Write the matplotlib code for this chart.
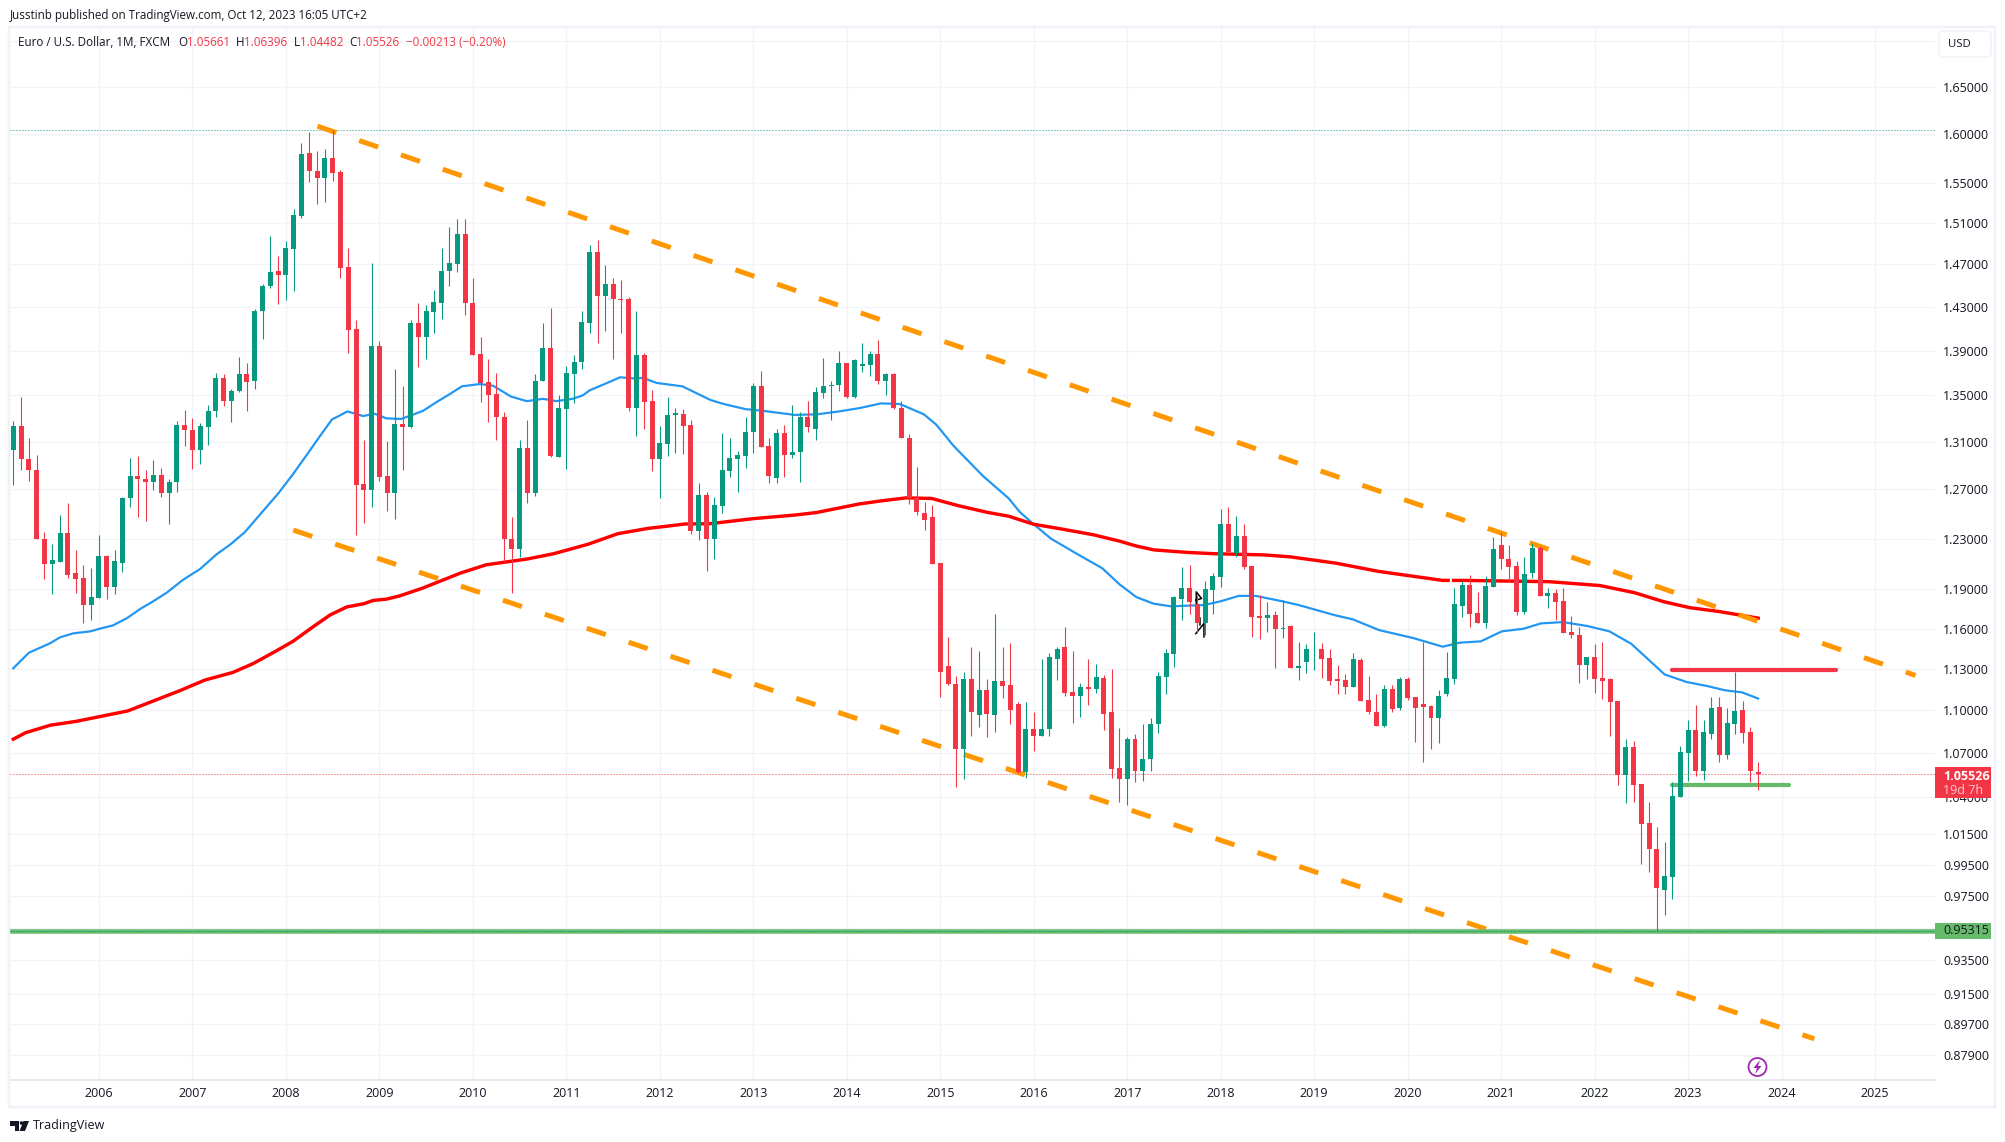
import numpy as np
import matplotlib
matplotlib.use("Agg")
import matplotlib.pyplot as plt
from matplotlib.patches import Rectangle, FancyBboxPatch, Circle, Polygon

W, H = 2005, 1142
UP = "#089981"
DOWN = "#f23645"
GRID = "#f0f3fa"
INK = "#131722"
ORANGE = "#ff9800"
SOFTGREEN = "#66bb6a"

plt.rcParams["font.family"] = ["Open Sans", "DejaVu Sans"]

# monthly candles, Feb 2005 to Oct 2023
opens = [
    1.3028, 1.3232, 1.2956, 1.2864, 1.2295, 1.2098, 1.2115, 1.2343, 1.2025, 1.1990, 1.1780,
    1.1835, 1.2160, 1.1920, 1.2105, 1.2625, 1.2811, 1.2787, 1.2765, 1.2820, 1.2670, 1.2765, 1.3240,
    1.3200, 1.3030, 1.3225, 1.3360, 1.3657, 1.3450, 1.3535, 1.3685, 1.3625, 1.4265, 1.4495, 1.4635,
    1.4595, 1.4850, 1.5175, 1.5800, 1.5625, 1.5550, 1.5757, 1.5615, 1.4672, 1.4095, 1.2745, 1.2695,
    1.3940, 1.2810, 1.2670, 1.3250, 1.3225, 1.4150, 1.4025, 1.4255, 1.4340, 1.4635, 1.4705, 1.4998,
    1.4340, 1.3865, 1.3620, 1.3510, 1.3315, 1.2300, 1.2218, 1.3045, 1.2670, 1.3630, 1.3920, 1.2970,
    1.3385, 1.3690, 1.3800, 1.4150, 1.4820, 1.4398, 1.4510, 1.4375, 1.4375, 1.3390, 1.3855, 1.3450,
    1.2950, 1.3080, 1.3330, 1.3335, 1.3245, 1.2360, 1.2654, 1.2295, 1.2565, 1.2850, 1.2955, 1.2980,
    1.3180, 1.3585, 1.3062, 1.2795, 1.3170, 1.2985, 1.3010, 1.3310, 1.3205, 1.3525, 1.3580, 1.3590,
    1.3785, 1.3490, 1.3765, 1.3770, 1.3870, 1.3630, 1.3692, 1.3393, 1.3135, 1.2630, 1.2510, 1.2475,
    1.2105, 1.1320, 1.1187, 1.0730, 1.1230, 1.0965, 1.1150, 1.0965, 1.1215, 1.1185, 1.1045, 1.0565,
    1.0870, 1.0820, 1.0865, 1.1375, 1.1460, 1.1130, 1.1100, 1.1170, 1.1155, 1.1235, 1.0985, 1.0595,
    1.0520, 1.0795, 1.0575, 1.0655, 1.0900, 1.1240, 1.1410, 1.1830, 1.1910, 1.1790, 1.1640, 1.1895,
    1.1995, 1.2415, 1.2185, 1.2320, 1.2080, 1.1695, 1.1680, 1.1705, 1.1595, 1.1620, 1.1310, 1.1350,
    1.1445, 1.1450, 1.1380, 1.1225, 1.1220, 1.1165, 1.1365, 1.1075, 1.0990, 1.0890, 1.1155, 1.1015,
    1.1225, 1.1095, 1.1045, 1.1030, 1.0945, 1.1115, 1.1230, 1.1770, 1.1935, 1.1720, 1.1645, 1.1915,
    1.2245, 1.2135, 1.2080, 1.1730, 1.2025, 1.2225, 1.1850, 1.1875, 1.1810, 1.1575, 1.1555, 1.1330,
    1.1390, 1.1235, 1.1225, 1.1065, 1.0545, 1.0740, 1.0487, 1.0220, 1.0055, 0.9785, 0.9870, 1.0400,
    1.0700, 1.0860, 1.0575, 1.0830, 1.1025, 1.0685, 1.0905, 1.1000, 1.0845, 1.05661,
]
highs = [
    1.3276, 1.3483, 1.3128, 1.2986, 1.2350, 1.2255, 1.2487, 1.2585, 1.2210, 1.2090, 1.2065,
    1.2325, 1.2170, 1.2210, 1.2640, 1.2965, 1.2978, 1.2865, 1.2945, 1.2875, 1.2787, 1.3276, 1.3370,
    1.3300, 1.3258, 1.3412, 1.3695, 1.3685, 1.3555, 1.3845, 1.3790, 1.4280, 1.4515, 1.4975, 1.4780,
    1.4925, 1.5240, 1.5909, 1.6019, 1.5828, 1.5850, 1.6038, 1.5635, 1.4858, 1.4180, 1.3111, 1.4718,
    1.3985, 1.3105, 1.3735, 1.3580, 1.4180, 1.4332, 1.4315, 1.4455, 1.4855, 1.5065, 1.5145, 1.5137,
    1.4575, 1.4025, 1.3820, 1.3697, 1.3358, 1.2470, 1.3115, 1.3285, 1.3685, 1.4155, 1.4285, 1.3505,
    1.3760, 1.3855, 1.4262, 1.4888, 1.4938, 1.4695, 1.4575, 1.4550, 1.4395, 1.4262, 1.3875, 1.3545,
    1.3235, 1.3485, 1.3392, 1.3384, 1.3282, 1.2750, 1.2680, 1.2638, 1.3175, 1.3135, 1.3025, 1.3315,
    1.3605, 1.3715, 1.3135, 1.3210, 1.3245, 1.3420, 1.3355, 1.3450, 1.3575, 1.3830, 1.3630, 1.3893,
    1.3785, 1.3825, 1.3965, 1.3900, 1.3995, 1.3700, 1.3700, 1.3450, 1.3165, 1.2885, 1.2600, 1.2570,
    1.2105, 1.1535, 1.1245, 1.1275, 1.1465, 1.1435, 1.1225, 1.1715, 1.1460, 1.1495, 1.1060, 1.1060,
    1.0985, 1.1375, 1.1415, 1.1465, 1.1615, 1.1430, 1.1195, 1.1370, 1.1335, 1.1255, 1.1300, 1.0875,
    1.0810, 1.0830, 1.0905, 1.0945, 1.1275, 1.1450, 1.1850, 1.2075, 1.2090, 1.1860, 1.1965, 1.2030,
    1.2535, 1.2555, 1.2480, 1.2415, 1.2080, 1.1855, 1.1800, 1.1735, 1.1815, 1.1625, 1.1500, 1.1485,
    1.1575, 1.1495, 1.1450, 1.1330, 1.1265, 1.1415, 1.1380, 1.1250, 1.1115, 1.1185, 1.1180, 1.1240,
    1.1240, 1.1095, 1.1500, 1.1040, 1.1150, 1.1425, 1.1910, 1.1965, 1.2010, 1.1880, 1.2003, 1.2315,
    1.2350, 1.2250, 1.2120, 1.2150, 1.2265, 1.2240, 1.1910, 1.1900, 1.1910, 1.1695, 1.1615, 1.1390,
    1.1485, 1.1500, 1.1237, 1.1070, 1.0795, 1.0785, 1.0487, 1.0365, 1.0200, 1.0095, 1.0500, 1.0745,
    1.0930, 1.1035, 1.0930, 1.1095, 1.1095, 1.1015, 1.1275, 1.1065, 1.0880, 1.06396,
]
lows = [
    1.2736, 1.2864, 1.2772, 1.2295, 1.1980, 1.1864, 1.2115, 1.1985, 1.1875, 1.1640, 1.1665,
    1.1835, 1.1825, 1.1862, 1.2035, 1.2555, 1.2475, 1.2440, 1.2695, 1.2640, 1.2420, 1.2680, 1.3060,
    1.2866, 1.2907, 1.3070, 1.3315, 1.3405, 1.3265, 1.3530, 1.3365, 1.3555, 1.4005, 1.4480, 1.4325,
    1.4365, 1.4445, 1.5155, 1.5513, 1.5285, 1.5305, 1.5524, 1.4575, 1.3881, 1.2325, 1.2425, 1.2555,
    1.2770, 1.2520, 1.2460, 1.2860, 1.3215, 1.3748, 1.3825, 1.4055, 1.4185, 1.4495, 1.4630, 1.4225,
    1.3855, 1.3445, 1.3265, 1.3115, 1.2111, 1.1875, 1.2150, 1.2590, 1.2645, 1.3625, 1.2970, 1.2967,
    1.2870, 1.3435, 1.3735, 1.4055, 1.3970, 1.4075, 1.3825, 1.4060, 1.3365, 1.3145, 1.3210, 1.2855,
    1.2625, 1.2978, 1.3003, 1.2995, 1.2335, 1.2287, 1.2040, 1.2135, 1.2510, 1.2800, 1.2675, 1.2880,
    1.3000, 1.3055, 1.2755, 1.2750, 1.2800, 1.2965, 1.2760, 1.3180, 1.3112, 1.3480, 1.3290, 1.3535,
    1.3480, 1.3480, 1.3710, 1.3675, 1.3600, 1.3505, 1.3380, 1.3130, 1.2580, 1.2490, 1.2370, 1.2095,
    1.1098, 1.1180, 1.0465, 1.0520, 1.0820, 1.0885, 1.0810, 1.0845, 1.1090, 1.0900, 1.0560, 1.0525,
    1.0710, 1.0815, 1.0820, 1.1220, 1.1100, 1.0910, 1.0955, 1.1040, 1.1125, 1.0860, 1.0530, 1.0365,
    1.0345, 1.0500, 1.0505, 1.0575, 1.0840, 1.1120, 1.1315, 1.1665, 1.1715, 1.1570, 1.1550, 1.1715,
    1.1920, 1.2190, 1.2155, 1.2060, 1.1535, 1.1525, 1.1575, 1.1305, 1.1530, 1.1310, 1.1220, 1.1270,
    1.1295, 1.1235, 1.1180, 1.1115, 1.1115, 1.1165, 1.1070, 1.0975, 1.0890, 1.0880, 1.0985, 1.1000,
    1.1075, 1.0775, 1.0640, 1.0730, 1.0767, 1.1105, 1.1190, 1.1690, 1.1610, 1.1645, 1.1603, 1.1915,
    1.2060, 1.1965, 1.1705, 1.1715, 1.1985, 1.1850, 1.1755, 1.1665, 1.1565, 1.1530, 1.1195, 1.1230,
    1.1125, 1.1080, 1.0815, 1.0480, 1.0355, 1.0365, 0.9955, 0.9900, 0.95315, 0.9630, 0.9730, 1.0400,
    1.0505, 1.0540, 1.0515, 1.0795, 1.0635, 1.0660, 1.0835, 1.0770, 1.0500, 1.04482,
]
closes = [
    1.3232, 1.2956, 1.2864, 1.2295, 1.2100, 1.2130, 1.2343, 1.2015, 1.1982, 1.1780, 1.1840,
    1.2160, 1.1918, 1.2120, 1.2625, 1.2811, 1.2787, 1.2765, 1.2820, 1.2670, 1.2765, 1.3240, 1.3200,
    1.3028, 1.3232, 1.3362, 1.3657, 1.3450, 1.3535, 1.3685, 1.3620, 1.4265, 1.4495, 1.4625, 1.4595,
    1.4859, 1.5181, 1.5797, 1.5618, 1.5554, 1.5757, 1.5605, 1.4665, 1.4086, 1.2736, 1.2695, 1.3940,
    1.2803, 1.2670, 1.3250, 1.3225, 1.4150, 1.4025, 1.4262, 1.4343, 1.4638, 1.4713, 1.4998, 1.4334,
    1.3855, 1.3610, 1.3503, 1.3310, 1.2300, 1.2218, 1.3045, 1.2670, 1.3630, 1.3920, 1.2977, 1.3388,
    1.3695, 1.3800, 1.4160, 1.4820, 1.4398, 1.4510, 1.4372, 1.4365, 1.3390, 1.3855, 1.3445, 1.2950,
    1.3085, 1.3330, 1.3345, 1.3235, 1.2360, 1.2654, 1.2295, 1.2570, 1.2860, 1.2960, 1.2985, 1.3185,
    1.3585, 1.3055, 1.2810, 1.3170, 1.2990, 1.3015, 1.3310, 1.3222, 1.3530, 1.3585, 1.3595, 1.3785,
    1.3490, 1.3810, 1.3783, 1.3870, 1.3630, 1.3692, 1.3388, 1.3130, 1.2625, 1.2515, 1.2450, 1.2095,
    1.1275, 1.1187, 1.0730, 1.1230, 1.0990, 1.1150, 1.0975, 1.1215, 1.1175, 1.1000, 1.0565, 1.0865,
    1.0820, 1.0870, 1.1385, 1.1450, 1.1125, 1.1100, 1.1170, 1.1155, 1.1240, 1.0975, 1.0590, 1.0520,
    1.0795, 1.0575, 1.0660, 1.0900, 1.1245, 1.1420, 1.1840, 1.1910, 1.1805, 1.1640, 1.1905, 1.2005,
    1.2415, 1.2190, 1.2320, 1.2075, 1.1690, 1.1680, 1.1705, 1.1600, 1.1605, 1.1310, 1.1325, 1.1450,
    1.1450, 1.1370, 1.1215, 1.1215, 1.1165, 1.1370, 1.1070, 1.0985, 1.0890, 1.1155, 1.1010, 1.1225,
    1.1090, 1.1020, 1.1025, 1.0945, 1.1105, 1.1235, 1.1785, 1.1935, 1.1715, 1.1645, 1.1925, 1.2220,
    1.2135, 1.2075, 1.1730, 1.2020, 1.2225, 1.1850, 1.1875, 1.1805, 1.1565, 1.1550, 1.1330, 1.1390,
    1.1230, 1.1215, 1.1060, 1.0545, 1.0739, 1.0481, 1.0215, 1.0050, 0.9800, 0.9875, 1.0405, 1.0705,
    1.0860, 1.0575, 1.0845, 1.1015, 1.0685, 1.0910, 1.0995, 1.0840, 1.0575, 1.05526,
]

# moving averages: bar number, price
blue_bar = [0, 2, 4.7, 6, 7.7, 9.9, 11.1, 12.8, 14.6, 16.3, 18, 19.7, 21.8, 24, 26.1, 27.8, 29.7, 32.1,
            34, 35.9, 37.7, 39.4, 40.9, 42.9, 44.9, 46.4, 47.9, 49.8, 52.6, 54.3, 56, 57.6, 59.9, 61.6,
            63.9, 65.9, 68, 69.7, 71.8, 73.1, 74, 75.9, 77.9, 79.6, 80.8, 82.6, 85.9, 89.5, 91.2, 94,
            96.3, 100.3, 103.2, 106, 108.7, 111.4, 113.8, 116.9, 118.5, 120.7, 124.5, 127.8, 129.2, 131,
            133.2, 136.5, 139.8, 142, 144.2, 146.4, 148.6, 152.9, 155.1, 157.3, 159.5, 162.8, 165, 169.8,
            172, 175.3, 179.7, 183.5, 185.7, 188.4, 191.1, 193.9, 196.1, 198.9, 202.1, 204.9, 207.7,
            209.9, 212, 214.8, 217.5, 219.7, 221.9, 224]
blue_val = [1.1305, 1.142, 1.149, 1.1535, 1.1565, 1.158, 1.160, 1.1625, 1.168, 1.175, 1.181, 1.1875,
            1.1975, 1.206, 1.2175, 1.225, 1.235, 1.2525, 1.2665, 1.2825, 1.299, 1.315, 1.329, 1.336,
            1.332, 1.334, 1.330, 1.3295, 1.3365, 1.344, 1.351, 1.358, 1.360, 1.3585, 1.349, 1.345,
            1.347, 1.345, 1.347, 1.350, 1.3545, 1.360, 1.366, 1.365, 1.3655, 1.361, 1.358, 1.346,
            1.3425, 1.338, 1.3365, 1.333, 1.3335, 1.336, 1.339, 1.343, 1.3425, 1.3335, 1.3245, 1.3065,
            1.281, 1.2625, 1.2515, 1.2415, 1.230, 1.218, 1.2065, 1.194, 1.184, 1.179, 1.177, 1.178,
            1.181, 1.185, 1.185, 1.181, 1.178, 1.170, 1.167, 1.159, 1.153, 1.1465, 1.1495, 1.1505,
            1.158, 1.160, 1.164, 1.165, 1.162, 1.158, 1.1487, 1.137, 1.126, 1.1205, 1.1175, 1.1145,
            1.113, 1.1085]
red_bar = [0, 1.6, 4.8, 8.1, 11.4, 14.7, 18, 21.3, 24.6, 28.2, 30.8, 33.8, 35.9, 38.5, 40.7, 42.8, 45, 46.2,
           47.9, 49.6, 52.5, 57.4, 60.7, 66, 69.4, 73.8, 77.6, 81.5, 84, 86.2, 89.5, 92.2, 94.9, 100.4,
           103.1, 108.6, 111.4, 114.6, 117.9, 121.2, 125, 127.8, 131, 134.3, 138.7, 142, 144.2, 146.4,
           150.7, 154, 160.6, 163.9, 169.8, 175.3, 183.5, 184.2, 184.5, 184.9, 186.2, 197.2, 203.7,
           208.1, 211.9, 215.2, 219, 224]
red_val = [1.0796, 1.0842, 1.0895, 1.0922, 1.0959, 1.0996, 1.1068, 1.1140, 1.1219, 1.1275, 1.134, 1.1435,
           1.1505, 1.1615, 1.1705, 1.1765, 1.179, 1.1815, 1.1825, 1.185, 1.1909, 1.2027, 1.2092, 1.2138,
           1.218, 1.2255, 1.2339, 1.2382, 1.240, 1.2417, 1.242, 1.244, 1.246, 1.249, 1.251, 1.258,
           1.2605, 1.263, 1.2625, 1.2568, 1.2512, 1.248, 1.2415, 1.238, 1.233, 1.228, 1.224, 1.221,
           1.219, 1.218, 1.217, 1.2155, 1.2105, 1.204, 1.197, 1.197, np.nan, 1.197, 1.197, 1.196,
           1.193, 1.1875, 1.1805, 1.176, 1.173, 1.168]

# drawings: start bar, end bar, start price, end price
chan_top_bar = [39.04, 244.2]
chan_top_val = [1.6083, 1.1253]
chan_bot_bar = [35.95, 231.2]
chan_bot_val = [1.2368, 0.8885]
res_bar = [212.9, 234]
res_val = 1.129
sup_bar = [212.9, 228]
sup_val = 1.048
low_val = 0.95315
high_val = 1.6038
last_val = 1.05526

# pen mark near Oct 2017
mark1_bar = [151.86, 151.86, 152.55, 151.86]
mark1_val = [1.1792, 1.1881, 1.1830, 1.1818]
mark2_bar = [151.8, 152.85, 152.85]
mark2_val = [1.1563, 1.1639, 1.1538]
mark3_bar = [152.4, 152.4]
mark3_val = [1.1678, 1.1628]

year_labels = ["2006", "2007", "2008", "2009", "2010", "2011", "2012", "2013", "2014", "2015",
               "2016", "2017", "2018", "2019", "2020", "2021", "2022", "2023", "2024", "2025"]
price_ticks = [1.70, 1.65, 1.60, 1.55, 1.51, 1.47, 1.43, 1.39, 1.35, 1.31, 1.27, 1.23, 1.19, 1.16, 1.13,
               1.10, 1.07, 1.04, 1.015, 0.995, 0.975, 0.955, 0.935, 0.915, 0.897, 0.879]
price_labels = ["", "1.65000", "1.60000", "1.55000", "1.51000", "1.47000", "1.43000", "1.39000", "1.35000",
                "1.31000", "1.27000", "1.23000", "1.19000", "1.16000", "1.13000", "1.10000", "1.07000",
                "1.04000", "1.01500", "0.99500", "0.97500", "", "0.93500", "0.91500", "0.89700", "0.87900"]


def fx(x):
    return x / W


def fy(y):
    return 1 - y / H


def lw(px):
    return px * 0.72


fig = plt.figure(figsize=(W / 100, H / 100), dpi=100, facecolor="white")
ax = fig.add_axes([fx(10), fy(1080), fx(1935 - 10), (1080 - 28) / H])
ax.set_yscale("log")
ax.set_xlim(-0.42, 246.7)
ax.set_ylim(0.865, 1.7143)

bars = np.arange(len(closes))
o = np.array(opens)
c = np.array(closes)
colors = [UP if b >= a else DOWN for a, b in zip(o, c)]

ax.vlines(bars, lows, highs, colors=colors, linewidth=lw(1.1), zorder=5)
ax.bar(bars, np.abs(c - o), bottom=np.minimum(o, c), width=0.64, color=colors, linewidth=0, zorder=6)

ax.plot(blue_bar, blue_val, color="#2196f3", lw=lw(2.2), zorder=3)
ax.plot(red_bar, red_val, color="#ff0000", lw=lw(3.4), zorder=3)

for bx, by in [(chan_top_bar, chan_top_val), (chan_bot_bar, chan_bot_val)]:
    ax.plot(bx, by, color=ORANGE, lw=lw(5), linestyle=(0, (4, 4.84)), dash_capstyle="butt", zorder=4)

ax.plot(res_bar, [res_val, res_val], color=DOWN, lw=lw(4.2), solid_capstyle="round", zorder=4)
ax.plot(sup_bar, [sup_val, sup_val], color=SOFTGREEN, lw=lw(4.2), solid_capstyle="round", zorder=4)
ax.axhline(low_val, color=SOFTGREEN, lw=lw(4.5), zorder=4)

ax.axhline(low_val, color=UP, lw=lw(1), linestyle=(0, (1, 2)), zorder=4.5)
ax.axhline(high_val, color=UP, lw=lw(1), linestyle=(0, (1, 2)), zorder=2)
ax.axhline(last_val, color=DOWN, lw=lw(1), linestyle=(0, (1, 2)), zorder=2)

for mx, my in [(mark1_bar, mark1_val), (mark2_bar, mark2_val), (mark3_bar, mark3_val)]:
    ax.plot(mx, my, color="black", lw=lw(1.5), zorder=4)

year_bars = [11 + 12 * i for i in range(len(year_labels))]
ax.set_xticks(year_bars, year_labels)
ax.set_yticks(price_ticks, price_labels)
ax.minorticks_off()
ax.yaxis.tick_right()
ax.tick_params(axis="x", length=0, pad=5, labelsize=9, labelcolor=INK)
ax.tick_params(axis="y", length=0, pad=6, labelsize=9, labelcolor=INK)
ax.grid(True, color=GRID, lw=lw(1.2))
ax.set_axisbelow(True)
for name in ["top", "left", "right"]:
    ax.spines[name].set_visible(False)
ax.spines["bottom"].set_color("#e0e3eb")
ax.spines["bottom"].set_linewidth(lw(1.5))

# outer frame
fig.add_artist(Rectangle((fx(9), fy(1107)), fx(1995 - 9), (1107 - 27) / H, fill=False,
                         edgecolor=GRID, lw=lw(2.5), transform=fig.transFigure))

# header and legend
fig.text(fx(10), fy(15), "Jusstinb published on TradingView.com, Oct 12, 2023 16:05 UTC+2",
         fontsize=8.35, color=INK, va="center")
fig.text(fx(18), fy(42), "Euro / U.S. Dollar, 1M, FXCM", fontsize=8.4, color=INK, va="center")
for x, s, col in [(178.5, "O", INK), (187.5, "1.05661", DOWN), (236, "H", INK), (244, "1.06396", DOWN),
                  (293.6, "L", INK), (300, "1.04482", DOWN), (349.4, "C", INK), (356, "1.05526", DOWN),
                  (405.6, "\u22120.00213 (\u22120.20%)", DOWN)]:
    fig.text(fx(x), fy(42), s, fontsize=8.4, color=col, va="center")

# USD button
fig.add_artist(FancyBboxPatch((1942, H - 54), 46, 20, boxstyle="round,pad=3", facecolor="white",
                              edgecolor=GRID, lw=lw(1.5), transform=None))
fig.text(fx(1948), fy(44.5), "USD", fontsize=8.2, color=INK, va="center")

# price labels
fig.add_artist(Rectangle((1935, H - 797.7), 55.7, 30.7, facecolor=DOWN, edgecolor="none", transform=None, zorder=5))
fig.text(fx(1943), fy(776), "1.05526", fontsize=9, color="white", va="center", fontweight="bold", zorder=6)
fig.text(fx(1943), fy(790), "19d 7h", fontsize=9, color="#fbc8cd", va="center", zorder=6)
fig.add_artist(Rectangle((1935, H - 939.3), 55.7, 16.6, facecolor=SOFTGREEN, edgecolor="none", transform=None, zorder=5))
fig.text(fx(1943), fy(931), "0.95315", fontsize=9, color=INK, va="center", zorder=6)

# lightning icon
fig.add_artist(Circle((1757.5, H - 1067), 9, fill=False, edgecolor="#9c27b0", lw=lw(1.8), transform=None))
bolt = [(1760, 1060), (1753.5, 1068), (1757, 1068), (1755, 1074), (1761.5, 1066), (1758, 1066)]
fig.add_artist(Polygon([(x, H - y) for x, y in bolt], facecolor="#9c27b0", edgecolor="none", transform=None))

# TradingView logo
logo_bar = [(10, 1121), (19, 1121), (19, 1131), (14.5, 1131), (14.5, 1125.5), (10, 1125.5)]
logo_tail = [(23.5, 1121), (29, 1121), (25, 1131), (19.5, 1131)]
for pts in [logo_bar, logo_tail]:
    fig.add_artist(Polygon([(x, H - y) for x, y in pts], facecolor=INK, edgecolor="none", transform=None))
fig.add_artist(Circle((21.5, H - 1123), 1.8, facecolor=INK, edgecolor="none", transform=None))
fig.text(fx(33), fy(1126), "TradingView", fontsize=9, color=INK, va="center")

fig.savefig("out.png", dpi=100)
